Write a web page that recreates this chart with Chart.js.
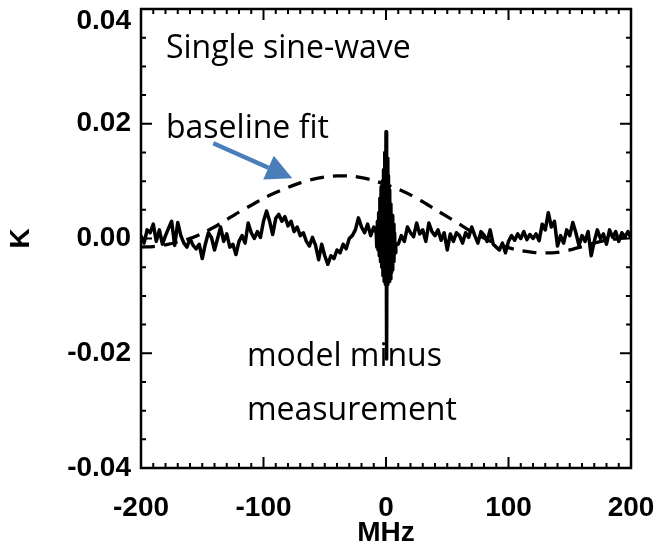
<!DOCTYPE html>
<html>
<head>
<meta charset="utf-8">
<script src="https://cdn.jsdelivr.net/npm/chart.js@4.4.1/dist/chart.umd.min.js"></script>
<style>
  html, body { margin: 0; padding: 0; background: #ffffff; }
  #wrap { width: 664px; height: 547px; position: relative; }
</style>
</head>
<body>
<div id="wrap"><canvas id="c" width="664" height="547"></canvas></div>
<script>
// ---- Data ----
// Residual spectrum (model minus measurement), frequency in MHz
const residualMHz = [
  -200,-197.5,-195,-192.5,-190,-187.5,-185,-182.5,-180,-177.5,-175,-172.5,-170,-167.5,-165,-162.5,-160,-157.5,-155,-152.5,
  -150,-147.5,-145,-142.5,-140,-137.5,-135,-132.5,-130,-127.5,-125,-122.5,-120,-117.5,-115,-112.5,-110,-107.5,-105,-102.5,
  -100,-97.5,-95,-92.5,-90,-87.5,-85,-82.5,-80,-77.5,-75,-72.5,-70,-67.5,-65,-62.5,-60,-57.5,-55,-52.5,
  -50,-47.5,-45,-42.5,-40,-37.5,-35,-32.5,-30,-27.5,-25,-22.5,-20,-17.5,-15,-12.5,-10,
  -8,-7.5,-7,-6.5,-6,-5.5,-5,-4.5,-4,-3.5,-3,-2.5,-2,-1.5,-1,-0.5,0,0.5,1,1.5,2,2.5,3,3.5,4,4.5,5,5.5,6,6.5,7,7.5,8,
  10,12.5,15,17.5,20,22.5,25,27.5,30,32.5,35,37.5,40,42.5,45,47.5,50,52.5,55,57.5,60,62.5,65,67.5,70,72.5,75,77.5,80,
  82.5,85,87.5,90,92.5,95,97.5,100,102.5,105,107.5,110,112.5,115,117.5,120,122.5,125,127.5,130,132.5,135,137.5,140,
  142.5,145,147.5,150,152.5,155,157.5,160,162.5,165,167.5,170,172.5,175,177.5,180,182.5,185,187.5,190,192.5,195,197.5,200
];
const residualK = [
  0.0005,-0.0008,0.0015,0.0010,0.0025,-0.0005,0.0015,-0.0010,0.0005,0.0018,0.0030,-0.0012,0.0028,0.0005,-0.0008,-0.0015,0.0000,-0.0012,-0.0018,-0.0010,
  -0.0035,-0.0010,0.0010,0.0002,-0.0020,0.0000,0.0020,-0.0005,0.0008,-0.0015,-0.0010,-0.0028,-0.0005,0.0005,-0.0008,0.0027,0.0010,0.0000,0.0012,0.0002,
  0.0030,0.0048,0.0030,0.0007,0.0035,0.0042,0.0030,0.0038,0.0022,0.0030,0.0012,0.0020,0.0005,0.0010,-0.0005,-0.0013,0.0002,-0.0012,-0.0037,-0.0010,
  -0.0030,-0.0045,-0.0030,-0.0035,-0.0020,-0.0025,-0.0010,-0.0018,0.0000,0.0005,0.0015,0.0036,0.0020,0.0010,0.0025,0.0005,0.0020,
  0.0010,-0.0015,0.0030,-0.0020,0.0045,-0.0030,0.0070,-0.0040,0.0090,-0.0050,0.0100,-0.0065,0.0120,-0.0075,0.0150,-0.0080,0.0186,-0.0210,0.0140,-0.0080,0.0110,-0.0075,0.0085,-0.0070,0.0060,-0.0060,0.0040,-0.0055,0.0025,-0.0040,0.0010,-0.0025,-0.0010,
  -0.0010,0.0005,-0.0005,0.0020,0.0010,0.0003,0.0027,0.0008,0.0015,-0.0005,0.0027,0.0012,0.0005,0.0015,-0.0003,0.0010,-0.0020,0.0008,-0.0005,0.0010,0.0005,-0.0008,0.0010,0.0002,0.0020,0.0005,-0.0008,0.0012,0.0006,
  -0.0005,0.0015,-0.0010,-0.0015,-0.0020,-0.0008,-0.0025,-0.0005,0.0005,-0.0003,0.0008,0.0000,0.0012,-0.0002,0.0007,0.0000,0.0008,-0.0004,0.0025,0.0015,0.0045,0.0020,0.0030,-0.0013,
  0.0005,-0.0008,0.0015,0.0005,0.0028,0.0010,-0.0012,0.0005,-0.0005,0.0012,-0.0030,-0.0005,0.0015,0.0000,0.0008,-0.0010,0.0015,0.0002,0.0012,-0.0005,0.0010,0.0003,0.0012,0.0000
];
// Single sine-wave baseline fit (dashed), frequency in MHz
const fitMHz = [
  -200,-190,-180,-170,-160,-150,-140,-130,-120,-110,-100,-90,-80,-70,-60,-50,-40,-30,-20,-10,
  0,10,20,30,40,50,60,70,80,90,100,110,120,130,140,150,160,170,180,190,200
];
const fitK = [
  -0.0015,-0.0014,-0.0011,-0.0006,0.0000,0.0009,0.0020,0.0033,0.0046,0.0058,0.0070,0.0080,0.0089,0.0097,0.0103,0.0107,0.0109,0.0109,0.0106,0.0101,
  0.0094,0.0086,0.0076,0.0064,0.0051,0.0038,0.0025,0.0012,0.0001,-0.0009,-0.0016,-0.0021,-0.0024,-0.0025,-0.0024,-0.0020,-0.0014,-0.0008,-0.0003,0.0000,0.0002
];
// Axis ticks
const xTicks = [-200, -100, 0, 100, 200];
const yTicks = [-0.04, -0.02, 0.00, 0.02, 0.04];
const yTickLabels = ["-0.04", "-0.02", "0.00", "0.02", "0.04"];
const xMinorStep = 10;
const yMinorStep = 0.005;
// Annotations (text, baseline anchor in data units)
const notes = [
  { text: "Single sine-wave", mhz: -179.6, k: 0.0315 },
  { text: "baseline fit",     mhz: -179.6, k: 0.0175 },
  { text: "model minus",      mhz: -113.5, k: -0.0222 },
  { text: "measurement",      mhz: -113.5, k: -0.0316 }
];
const arrowFrom = { mhz: -141, k: 0.0166 };
const arrowTo   = { mhz: -76.5, k: 0.0105 };

const nRes = Math.min(residualMHz.length, residualK.length);
const residualPts = residualMHz.slice(0, nRes).map((x, i) => ({ x: x, y: residualK[i] }));
const fitPts = fitMHz.map((x, i) => ({ x: x, y: fitK[i] }));

const FONTFAM = "'Liberation Sans', Arial, Helvetica, sans-serif";
const TICKFONT = { family: FONTFAM, size: 28, weight: 'bold' };

const framePlugin = {
  id: 'frame',
  afterDatasetsDraw(chart) {
    const ctx = chart.ctx;
    const a = chart.chartArea;
    const xs = chart.scales.x, ys = chart.scales.y;
    ctx.save();
    ctx.strokeStyle = '#000';
    ctx.lineWidth = 2.5;
    ctx.strokeRect(a.left, a.top, a.right - a.left, a.bottom - a.top);
    ctx.lineWidth = 2;
    ctx.beginPath();
    for (let v = -200; v <= 200 + 1e-9; v += xMinorStep) {
      const px = xs.getPixelForValue(v);
      const major = xTicks.some(t => Math.abs(t - v) < 1e-9);
      const len = major ? 11 : 5;
      ctx.moveTo(px, a.bottom); ctx.lineTo(px, a.bottom - len);
      ctx.moveTo(px, a.top); ctx.lineTo(px, a.top + len);
    }
    for (let i = 0; i <= 16; i++) {
      const v = -0.04 + i * yMinorStep;
      const py = ys.getPixelForValue(v);
      const major = yTicks.some(t => Math.abs(t - v) < 1e-9);
      const len = major ? 11 : 5;
      ctx.moveTo(a.left, py); ctx.lineTo(a.left + len, py);
      ctx.moveTo(a.right, py); ctx.lineTo(a.right - len, py);
    }
    ctx.stroke();

    // y tick labels
    ctx.fillStyle = '#000';
    ctx.font = "bold 28px " + FONTFAM;
    ctx.textAlign = 'right';
    ctx.textBaseline = 'middle';
    yTicks.forEach((v, i) => {
      const py = Math.max(ys.getPixelForValue(v), a.top + 12);
      ctx.fillText(yTickLabels[i], a.left - 10, py);
    });

    // annotations
    ctx.font = "32px 'Open Sans', 'Noto Sans', sans-serif";
    ctx.textAlign = 'left';
    ctx.textBaseline = 'alphabetic';
    notes.forEach(n => {
      ctx.fillText(n.text, xs.getPixelForValue(n.mhz), ys.getPixelForValue(n.k));
    });

    // blue arrow
    const x1 = xs.getPixelForValue(arrowFrom.mhz), y1 = ys.getPixelForValue(arrowFrom.k);
    const x2 = xs.getPixelForValue(arrowTo.mhz), y2 = ys.getPixelForValue(arrowTo.k);
    const ang = Math.atan2(y2 - y1, x2 - x1);
    const headLen = 26, headW = 13;
    const bx = x2 - headLen * Math.cos(ang), by = y2 - headLen * Math.sin(ang);
    ctx.strokeStyle = '#4A7EBB';
    ctx.fillStyle = '#4A7EBB';
    ctx.lineWidth = 4.5;
    ctx.beginPath();
    ctx.moveTo(x1, y1); ctx.lineTo(bx, by);
    ctx.stroke();
    ctx.beginPath();
    ctx.moveTo(x2, y2);
    ctx.lineTo(bx + headW * Math.sin(ang), by - headW * Math.cos(ang));
    ctx.lineTo(bx - headW * Math.sin(ang), by + headW * Math.cos(ang));
    ctx.closePath();
    ctx.fill();
    ctx.restore();
  }
};

new Chart(document.getElementById('c'), {
  type: 'line',
  data: {
    datasets: [
      { label: 'model minus measurement', data: residualPts, borderColor: '#000', borderWidth: 3.5,
        pointRadius: 0, tension: 0, fill: false, borderJoinStyle: 'round' },
      { label: 'Single sine-wave baseline fit', data: fitPts, borderColor: '#000', borderWidth: 3.3,
        borderDash: [14, 9], pointRadius: 0, tension: 0.3, fill: false }
    ]
  },
  options: {
    responsive: false,
    animation: false,
    devicePixelRatio: 1,
    layout: { padding: { top: 9, right: 33, left: 0, bottom: 0 } },
    plugins: { legend: { display: false }, tooltip: { enabled: false } },
    scales: {
      x: {
        type: 'linear', min: -200, max: 200,
        afterBuildTicks: s => { s.ticks = xTicks.map(v => ({ value: v })); },
        afterFit: s => { s.height = 547 - 468; s.paddingLeft = 0; s.paddingRight = 0; },
        grid: { display: false }, border: { display: false },
        ticks: { color: '#000', font: TICKFONT, padding: 15, maxRotation: 0 },
        title: { display: true, text: 'MHz', color: '#000',
                 font: { family: FONTFAM, size: 28, weight: 'bold', lineHeight: 1.0 }, padding: { top: 0, bottom: 0 } }
      },
      y: {
        type: 'linear', min: -0.04, max: 0.04,
        afterBuildTicks: s => { s.ticks = yTicks.map(v => ({ value: v })); },
        afterFit: s => { s.width = 141; s.paddingTop = 0; s.paddingBottom = 0; },
        grid: { display: false }, border: { display: false },
        ticks: { display: false },
        title: { display: true, text: 'K', color: '#000', font: TICKFONT, padding: { top: 4, bottom: 0 } }
      }
    }
  },
  plugins: [framePlugin]
});
</script>
</body>
</html>
